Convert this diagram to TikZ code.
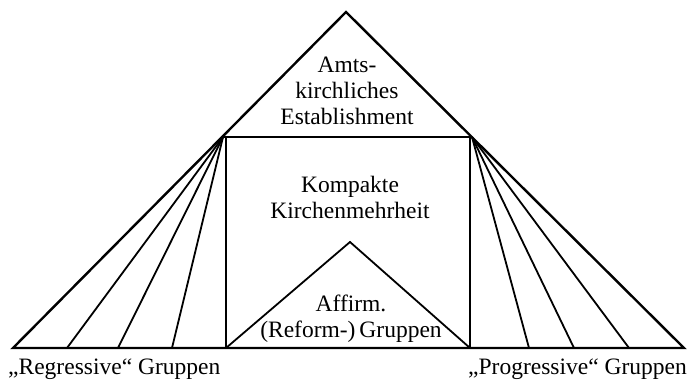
\documentclass[tikz,border=0pt]{standalone}
\usepackage{fontspec}
\setmainfont{Liberation Serif}
\begin{document}
\begin{tikzpicture}[x=1pt,y=-1pt,
  outer/.style={line width=2.4pt,line join=miter},
  inner/.style={line width=1.8pt},
  fan/.style={line width=1.8pt},
  lbl/.style={font=\fontsize{23.5}{26}\selectfont,align=center,inner sep=0pt},
  side/.style={font=\fontsize{23.5}{26}\selectfont,inner sep=0pt}]
\useasboundingbox (0,0) rectangle (689,382);
% key points
\coordinate (apex) at (346,12);
\coordinate (BL) at (13,348);
\coordinate (BR) at (684,348);
\coordinate (L) at (223,137);
\coordinate (R) at (472,137);
\coordinate (RTL) at (226,137);
\coordinate (RTR) at (470,137);
\coordinate (RBL) at (226,348);
\coordinate (RBR) at (470,348);
\coordinate (IA) at (350,242);
\coordinate (l1) at (67,348);
\coordinate (l2) at (118,348);
\coordinate (l3) at (172,348);
\coordinate (r1) at (529,348);
\coordinate (r2) at (574,348);
\coordinate (r3) at (629,348);
% outer triangle
\draw[outer] (BL) -- (apex) -- (BR) -- cycle;
% rectangle
\draw[inner] (L) -- (R);
\draw[inner] (RTL) -- (RBL);
\draw[inner] (RTR) -- (RBR);
% inner triangle
\draw[inner] (RBL) -- (IA) -- (RBR);
% fans
\foreach \p in {l1,l2,l3} \draw[fan] (L) -- (\p);
\foreach \p in {r1,r2,r3} \draw[fan] (R) -- (\p);
% texts
\node[lbl] (t1) at (347,91) {Amts-\\kirchliches\\Establishment};
\node[lbl] (t2) at (350,197) {Kompakte\\Kirchenmehrheit};
\node[lbl] (t3) at (351,319) {Affirm.\\(Reform-)\,Gruppen};
\node[side,anchor=base west] (t4) at (8,375) {„Regressive“ Gruppen};
\node[side,anchor=base east] (t5) at (687,375) {„Progressive“ Gruppen};
\end{tikzpicture}
\end{document}
